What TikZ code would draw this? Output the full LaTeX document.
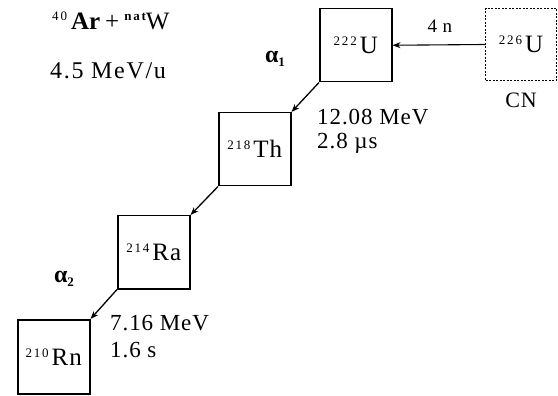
\documentclass[tikz,border=0pt]{standalone}
\usepackage{fontspec}
\setmainfont{Liberation Serif}
\newfontfamily\spaced[LetterSpace=4]{Liberation Serif}
\newfontfamily\midspaced[LetterSpace=7]{Liberation Serif}
\newfontfamily\wide[LetterSpace=14]{Liberation Serif}
\usetikzlibrary{arrows.meta}
\newcommand{\isot}[1]{\raisebox{8pt}{\fontsize{13}{14}\selectfont\wide #1}\kern3pt}
\begin{document}
\begin{tikzpicture}[x=1pt,y=-1pt,
  nuc/.style={draw,line width=1.5pt,minimum width=72pt,minimum height=73pt,inner sep=0pt,anchor=north west,font=\fontsize{25}{27}\selectfont\spaced},
  cnbox/.style={nuc,line width=1pt,dash pattern=on 2pt off 1.5pt},
  decay/.style={line width=1.3pt,-{Stealth[length=8pt,width=6pt]}},
  lbl/.style={font=\fontsize{23}{25}\selectfont\spaced,anchor=base west,inner sep=0pt},
  alph/.style={font=\fontsize{24}{26}\selectfont\bfseries,anchor=base,inner sep=0pt}
]
\useasboundingbox (0,0) rectangle (558,396);
\node[nuc] (U) at (319,8) {\isot{222}U};
\node[cnbox,minimum width=71pt,minimum height=72pt] (CN) at (485,8) {\isot{226}U};
\node[nuc] (Th) at (218,112) {\isot{218}Th};
\node[nuc] (Ra) at (117,215) {\isot{214}Ra};
\node[nuc,minimum height=74pt] (Rn) at (17,319) {\isot{210}Rn};
\draw[line width=1.1pt,-{Stealth[length=8pt,width=6pt]}] (CN.west) -- (U.east);
\node[font=\fontsize{19}{21}\selectfont\spaced,anchor=base,inner sep=0pt] (n4) at (440,33) {4 n};
\draw[decay] (U.south west) -- (Th.north east);
\draw[decay] (Th.south west) -- (Ra.north east);
\draw[decay] (Ra.south west) -- (Rn.north east);
\node[font=\fontsize{22}{24}\selectfont\spaced,anchor=base,inner sep=0pt] (cnl) at (521,108) {CN};
\node[font=\fontsize{25}{27}\selectfont,anchor=base west,inner sep=0pt] (react) at (52,30) {\raisebox{9pt}{\fontsize{13}{14}\selectfont\wide 40}\kern4pt\textbf{Ar}\kern5pt+\kern5pt\raisebox{9pt}{\fontsize{13}{14}\selectfont\bfseries\wide nat}{\spaced W}};
\node[font=\fontsize{24}{26}\selectfont\midspaced,anchor=base west,inner sep=0pt] (en) at (50,79) {4.5 MeV/u};
\node[alph] (a1) at (275,63) {α\raisebox{-4pt}{\fontsize{13}{14}\selectfont 1}};
\node[alph] (a2) at (64,282) {α\raisebox{-4pt}{\fontsize{13}{14}\selectfont 2}};
\node[lbl] (e1) at (317,125) {12.08 MeV};
\node[lbl] (t1) at (317,149) {2.8 µs};
\node[lbl] (e2) at (110,330) {7.16 MeV};
\node[lbl] (t2) at (110,357) {1.6 s};
\end{tikzpicture}
\end{document}
